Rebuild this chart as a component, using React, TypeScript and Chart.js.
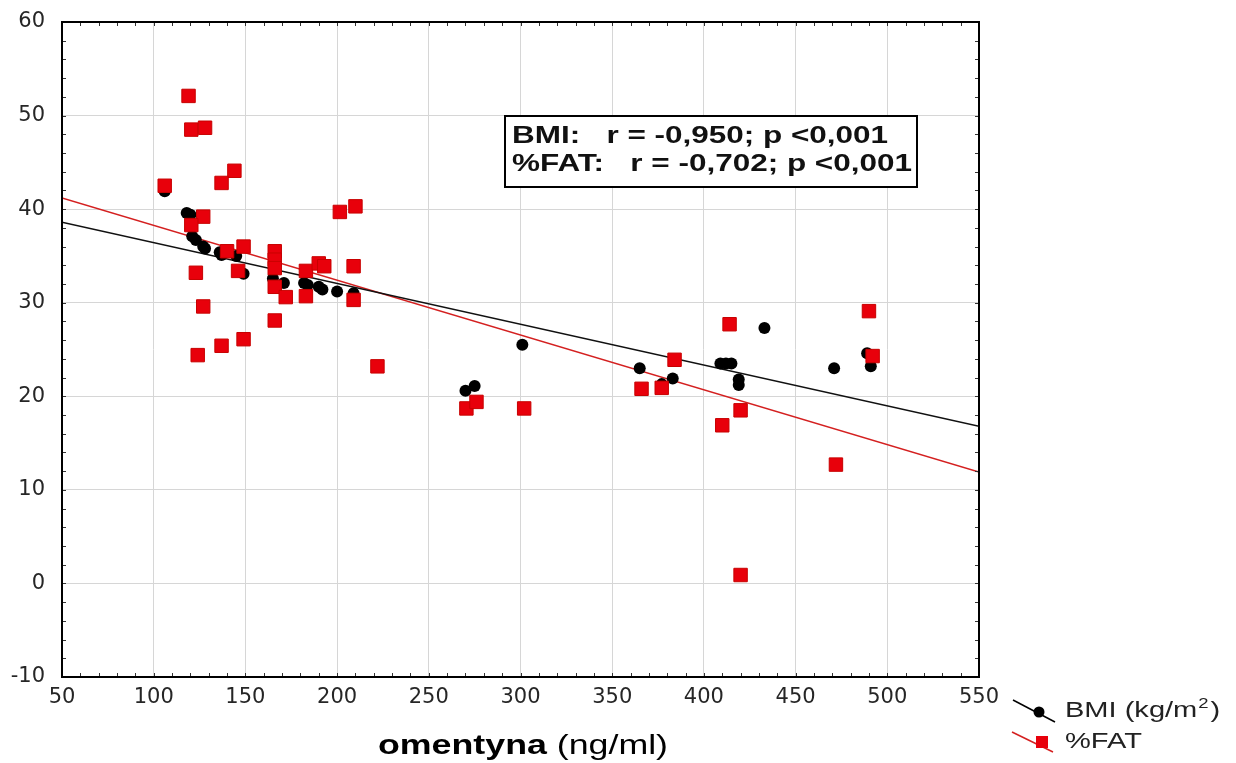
import React, { useEffect, useRef } from "react";
import { Chart, registerables } from "chart.js";
Chart.register(...registerables);

// ---- data ----
const xTicks = [50, 100, 150, 200, 250, 300, 350, 400, 450, 500, 550];
const yTicks = [-10, 0, 10, 20, 30, 40, 50, 60];

const bmiX = [106, 118, 120, 121, 123, 127, 128, 136, 137, 145, 149, 165, 171, 182, 184, 190, 192, 200, 209, 270, 275, 301, 365, 377, 383, 409, 412, 415, 419, 419, 433, 471, 489, 491];
const bmiY = [41.9, 39.6, 39.4, 37.1, 36.7, 36.0, 35.8, 35.4, 35.1, 35.0, 33.1, 32.6, 32.1, 32.1, 31.9, 31.7, 31.4, 31.2, 31.0, 20.6, 21.1, 25.5, 23.0, 21.3, 21.9, 23.5, 23.5, 23.5, 21.8, 21.2, 27.3, 23.0, 24.6, 23.2];

const fatX = [106, 119, 120.5, 128, 144, 137, 127, 120.5, 140, 149, 123, 146, 127, 137, 149, 124, 166, 166, 166, 166, 166, 172, 183, 183, 190, 193, 209, 209, 201.5, 210, 222, 270.5, 276, 302, 366, 377, 384, 410, 414, 420, 472, 490, 492, 420];
const fatY = [42.5, 52.1, 48.5, 48.7, 44.1, 42.8, 39.2, 38.3, 35.5, 36.0, 33.2, 33.4, 29.6, 25.4, 26.1, 24.4, 35.5, 34.6, 33.7, 31.7, 28.1, 30.6, 30.7, 33.4, 34.2, 33.9, 33.9, 30.3, 39.7, 40.3, 23.2, 18.7, 19.4, 18.7, 20.8, 20.9, 23.9, 16.9, 27.7, 18.5, 12.7, 29.1, 24.3, 0.9];

// fitted lines, endpoints
const fitX = [50, 550];
const bmiFit = [38.6, 16.8];
const fatFit = [41.2, 11.9];

const statLines = ["BMI:   r = -0,950; p <0,001", "%FAT:   r = -0,702; p <0,001"];
const legendBmi = ["BMI (kg/m", "2", ")"];
const legendFat = "%FAT";
const xTitleBold = "omentyna";
const xTitleRest = " (ng/ml)";

const X_MINOR = 10;
const Y_MINOR = 2;

const FONT = "'Liberation Sans', Arial, sans-serif";

function stretchText(ctx: CanvasRenderingContext2D, text: string, x: number, y: number, sx: number) {
  ctx.save();
  ctx.translate(x, y);
  ctx.scale(sx, 1);
  ctx.fillText(text, 0, 0);
  ctx.restore();
}

const framePlugin = {
  id: "frame",
  afterDraw(chart: any) {
    const { ctx, chartArea: ca, scales } = chart;
    const xs = scales.x;
    const ys = scales.y;
    ctx.save();
    // inner minor ticks on all four sides
    ctx.strokeStyle = "#333";
    ctx.lineWidth = 1;
    ctx.beginPath();
    for (let v = xTicks[0]; v <= xTicks[xTicks.length - 1]; v += X_MINOR) {
      const px = Math.round(xs.getPixelForValue(v)) + 0.5;
      ctx.moveTo(px, ca.bottom);
      ctx.lineTo(px, ca.bottom - 4);
      ctx.moveTo(px, ca.top);
      ctx.lineTo(px, ca.top + 4);
    }
    for (let v = yTicks[0]; v <= yTicks[yTicks.length - 1]; v += Y_MINOR) {
      const py = Math.round(ys.getPixelForValue(v)) + 0.5;
      ctx.moveTo(ca.left, py);
      ctx.lineTo(ca.left + 4, py);
      ctx.moveTo(ca.right, py);
      ctx.lineTo(ca.right - 4, py);
    }
    ctx.stroke();
    // frame
    ctx.strokeStyle = "#000";
    ctx.lineWidth = 2;
    ctx.strokeRect(ca.left, ca.top, ca.right - ca.left, ca.bottom - ca.top);

    // statistics box
    const bx = 505, by = 116, bw = 412, bh = 71;
    ctx.fillStyle = "#fff";
    ctx.fillRect(bx, by, bw, bh);
    ctx.strokeStyle = "#000";
    ctx.lineWidth = 2;
    ctx.strokeRect(bx, by, bw, bh);
    ctx.fillStyle = "#111";
    ctx.font = `bold 24px ${FONT}`;
    ctx.textBaseline = "alphabetic";
    ctx.textAlign = "left";
    const w2 = ctx.measureText(statLines[1]).width;
    const sxStat = 400 / w2;
    stretchText(ctx, statLines[0], 512, 143, sxStat);
    stretchText(ctx, statLines[1], 512, 171, sxStat);

    // legend
    ctx.strokeStyle = "#000";
    ctx.lineWidth = 1.5;
    ctx.beginPath();
    ctx.moveTo(1013, 700);
    ctx.lineTo(1055, 722);
    ctx.stroke();
    ctx.fillStyle = "#000";
    ctx.beginPath();
    ctx.arc(1039, 712, 5.5, 0, Math.PI * 2);
    ctx.fill();
    ctx.strokeStyle = "#d42020";
    ctx.beginPath();
    ctx.moveTo(1012, 732);
    ctx.lineTo(1053, 752);
    ctx.stroke();
    ctx.fillStyle = "#e8000b";
    ctx.fillRect(1036, 736, 12, 12);
    ctx.fillStyle = "#222";
    ctx.font = `22px ${FONT}`;
    const sxL = 1.32;
    stretchText(ctx, legendBmi[0], 1065, 717, sxL);
    const wBase = ctx.measureText(legendBmi[0]).width * sxL;
    ctx.font = `14px ${FONT}`;
    stretchText(ctx, legendBmi[1], 1065 + wBase + 1, 708, sxL);
    const wSup = ctx.measureText(legendBmi[1]).width * sxL;
    ctx.font = `22px ${FONT}`;
    stretchText(ctx, legendBmi[2], 1065 + wBase + wSup + 3, 717, sxL);
    stretchText(ctx, legendFat, 1065, 748, sxL);

    // x axis title (bold + regular)
    ctx.fillStyle = "#000";
    ctx.font = `bold 27px ${FONT}`;
    const wb = ctx.measureText(xTitleBold).width;
    ctx.font = `27px ${FONT}`;
    const wr = ctx.measureText(xTitleRest).width;
    const sxT = 290 / (wb + wr);
    ctx.font = `bold 27px ${FONT}`;
    stretchText(ctx, xTitleBold, 378, 754, sxT);
    ctx.font = `27px ${FONT}`;
    stretchText(ctx, xTitleRest, 378 + wb * sxT, 754, sxT);
    ctx.restore();
  },
};

export default function App() {
  const ref = useRef<HTMLCanvasElement | null>(null);
  useEffect(() => {
    if (!ref.current) return;
    const tickFont = { family: "'DejaVu Sans', sans-serif", size: 21 };
    const chart = new Chart(ref.current, {
      type: "scatter",
      data: {
        datasets: [
          {
            label: legendFat,
            data: fatX.map((x, i) => ({ x, y: fatY[i] })),
            pointStyle: "rect",
            pointRadius: 9.5,
            backgroundColor: "#e8000b",
            borderColor: "#c80000",
            borderWidth: 1,
            order: 1,
          },
          {
            label: "BMI",
            data: bmiX.map((x, i) => ({ x, y: bmiY[i] })),
            pointStyle: "circle",
            pointRadius: 6,
            backgroundColor: "#000",
            borderColor: "#000",
            borderWidth: 0,
            order: 2,
          },
          {
            type: "line",
            label: "BMI fit",
            data: fitX.map((x, i) => ({ x, y: bmiFit[i] })),
            borderColor: "#111",
            borderWidth: 1.4,
            pointRadius: 0,
            fill: false,
            order: 3,
          },
          {
            type: "line",
            label: "FAT fit",
            data: fitX.map((x, i) => ({ x, y: fatFit[i] })),
            borderColor: "#d42020",
            borderWidth: 1.4,
            pointRadius: 0,
            fill: false,
            order: 3,
          },
        ] as any,
      },
      options: {
        responsive: false,
        animation: false,
        devicePixelRatio: 1,
        layout: { padding: { left: 0, right: 257, top: 22, bottom: 0 } },
        plugins: { legend: { display: false }, tooltip: { enabled: false } },
        scales: {
          x: {
            type: "linear",
            min: xTicks[0],
            max: xTicks[xTicks.length - 1],
            afterBuildTicks: (s: any) => {
              s.ticks = xTicks.map((v) => ({ value: v }));
            },
            afterFit: (s: any) => {
              s.height = 86;
            },
            ticks: { font: tickFont, color: "#262626", padding: 8, maxRotation: 0, autoSkip: false },
            grid: { color: "#d6d6d6", drawTicks: false, lineWidth: 1 },
            border: { display: false },
          },
          y: {
            type: "linear",
            min: yTicks[0],
            max: yTicks[yTicks.length - 1],
            afterBuildTicks: (s: any) => {
              s.ticks = yTicks.map((v) => ({ value: v }));
            },
            afterFit: (s: any) => {
              s.width = 62;
              s.paddingTop = 0;
              s.paddingBottom = 0;
            },
            ticks: { font: tickFont, color: "#262626", padding: 17, autoSkip: false },
            grid: { color: "#d6d6d6", drawTicks: false, lineWidth: 1 },
            border: { display: false },
          },
        },
      } as any,
      plugins: [framePlugin],
    });
    return () => chart.destroy();
  }, []);
  return (
    <div style={{ position: "absolute", left: 0, top: 0, width: 1236, height: 763, background: "#fff" }}>
      <canvas ref={ref} width={1236} height={763} />
    </div>
  );
}
